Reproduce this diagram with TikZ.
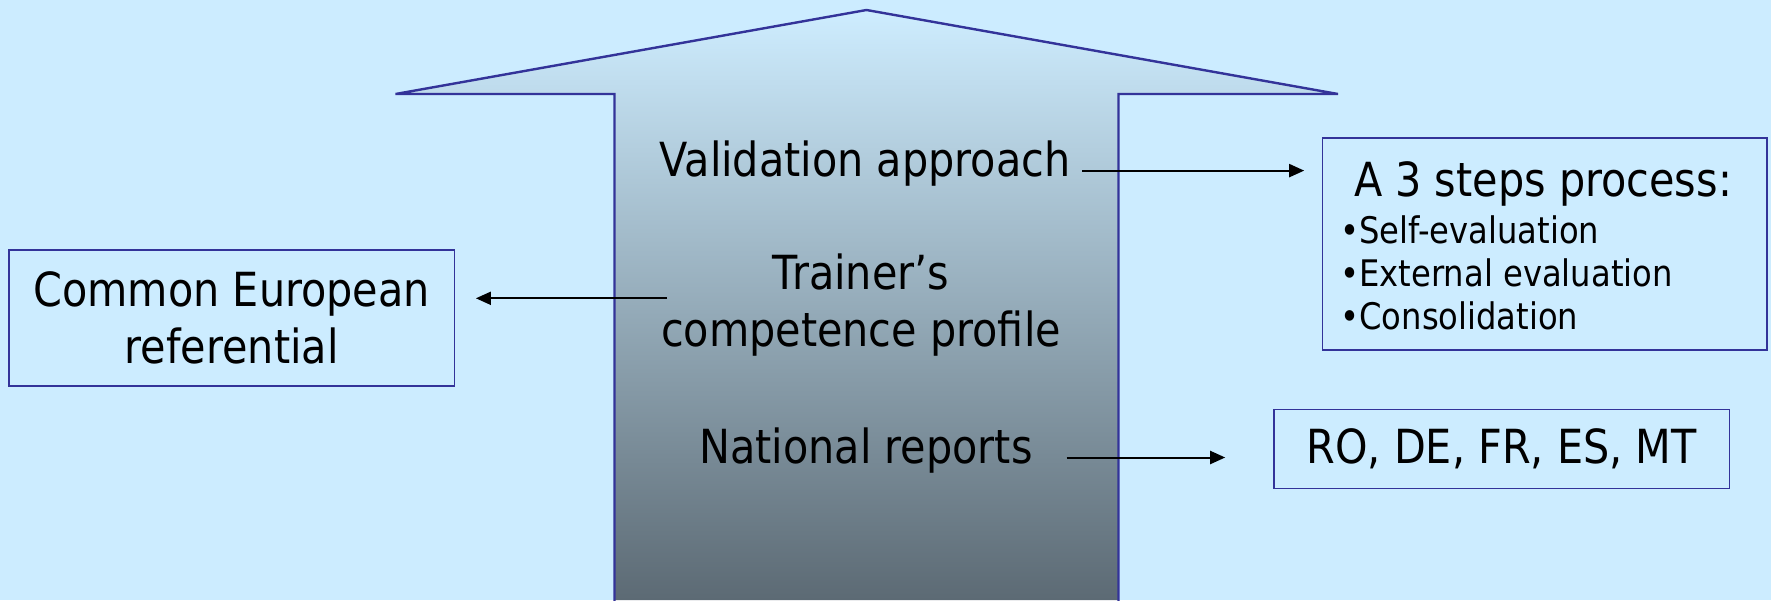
\documentclass[tikz,border=0pt]{standalone}
\usepackage{fontspec}
\setmainfont{DejaVu Sans}[FakeStretch=0.88]
\usetikzlibrary{arrows.meta}
\definecolor{bg}{RGB}{204,236,255}
\definecolor{edge}{RGB}{51,51,153}
\definecolor{shadetop}{RGB}{206,237,255}
\definecolor{shademid}{RGB}{158,184,200}
\definecolor{shadebot}{RGB}{92,106,116}
\tikzset{
  boxstyle/.style={draw=edge, line width=0.8pt, inner sep=0pt},
  maintext/.style={inner sep=0pt, font=\fontsize{23.5pt}{28.5pt}\selectfont},
  bullettext/.style={inner sep=0pt, font=\fontsize{18.3pt}{21.5pt}\selectfont},
  conn/.style={draw=black, line width=1pt, -{Triangle[length=7.5pt,width=6.5pt]}}
}
\begin{document}
\begin{tikzpicture}[x=0.5pt,y=-0.5pt]
  % background / bounding box
  \fill[bg] (0,0) rectangle (1771,600);
  \useasboundingbox (0,0) rectangle (1771,600);
  % big arrow
  \shade[top color=shadetop, middle color=shademid, bottom color=shadebot]
    (614.5,600) -- (614.5,94) -- (395.5,94) -- (866.5,10) -- (1338,94) -- (1118.5,94) -- (1118.5,600) -- cycle;
  \draw[edge, line width=1.2pt, line join=miter]
    (614.5,601) -- (614.5,94) -- (395.5,94) -- (866.5,10) -- (1338,94) -- (1118.5,94) -- (1118.5,601);
  % texts inside arrow
  \node[maintext, anchor=base] (va) at (865,176) {Validation approach};
  \node[maintext, align=center] (tp) at (861,305.5) {Trainer’s\\competence profile};
  \node[maintext, anchor=base] (nr) at (866,463) {National reports};
  % left box
  \node[boxstyle, maintext, align=center, minimum width=222.75pt, minimum height=68pt] (ref)
    at (231.75,318) {Common European\\referential};
  % right top box
  \node[boxstyle, minimum width=222.2pt, minimum height=106.1pt] (steps) at (1544.8,244) {};
  \node[maintext, anchor=base] (stepstitle) at (1543,196.5) {A 3 steps process:};
  \node[bullettext, anchor=base west] (b1) at (1340,243.3) {•Self-evaluation};
  \node[bullettext, anchor=base west] (b2) at (1340,286.7) {•External evaluation};
  \node[bullettext, anchor=base west] (b3) at (1340,329.5) {•Consolidation};
  % right bottom box
  \node[boxstyle, maintext, minimum width=227.7pt, minimum height=39.4pt] (countries)
    at (1501.7,448.9) {RO, DE, FR, ES, MT};
  % connectors
  \coordinate (vastart) at (1082,170.6);
  \coordinate (tpstart) at (667,298.3);
  \coordinate (nrstart) at (1066.5,457.5);
  \draw[conn, shorten >=8.8pt] (vastart) -- (vastart -| steps.west);
  \draw[conn, shorten >=10.3pt] (tpstart) -- (tpstart -| ref.east);
  \draw[conn, shorten >=24pt] (nrstart) -- (nrstart -| countries.west);
\end{tikzpicture}
\end{document}
